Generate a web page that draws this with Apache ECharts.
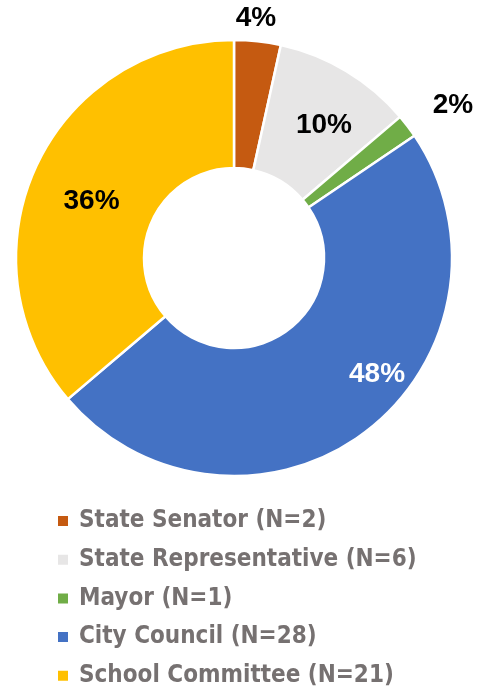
<!DOCTYPE html>
<html><head><meta charset="utf-8">
<script src="https://cdn.jsdelivr.net/npm/echarts@6/dist/echarts.min.js"></script>
<style>html,body{margin:0;padding:0;background:#fff}#c{width:485px;height:688px}</style>
</head><body><div id="c"></div>
<script>
const categories = ['State Senator (N=2)', 'State Representative (N=6)', 'Mayor (N=1)', 'City Council (N=28)', 'School Committee (N=21)'];
const counts = [2, 6, 1, 28, 21];
const pctLabels = ['4%', '10%', '2%', '48%', '36%'];
const colors = ['#C55A11', '#E7E6E6', '#70AD47', '#4472C4', '#FFC000'];
const labelColors = ['#000', '#000', '#000', '#fff', '#000'];
const labelOffsets = [[5, -84], [9, 2], [94, -58], [48, -9], [0, 9]];

const FONT = '"DejaVu Sans Condensed", "Liberation Sans Narrow", sans-serif';
const chart = echarts.init(document.getElementById('c'), null, {renderer: 'canvas'});
chart.setOption({
  animation: false,
  color: colors,
  legend: {
    orient: 'vertical', left: 51, top: 503, height: 200,
    icon: 'rect', itemWidth: 12, itemHeight: 12, itemGap: 12.7,
    textStyle: {fontFamily: FONT, fontWeight: 'bold', fontSize: 24, lineHeight: 26, color: '#767171', padding: [0, 0, 0, 5]},
    data: categories
  },
  series: [{
    type: 'pie',
    center: [234, 258],
    radius: [90, 218],
    startAngle: 90,
    clockwise: true,
    avoidLabelOverlap: false,
    itemStyle: {borderColor: '#fff', borderWidth: 2.5},
    labelLine: {show: false},
    data: categories.map((n, i) => ({
      name: n, value: counts[i],
      label: {
        show: true, position: 'inside', formatter: pctLabels[i],
        offset: labelOffsets[i], color: labelColors[i],
        fontFamily: '"Liberation Sans", Arial, sans-serif', fontWeight: 'bold', fontSize: 28
      }
    }))
  }]
});
</script></body></html>
